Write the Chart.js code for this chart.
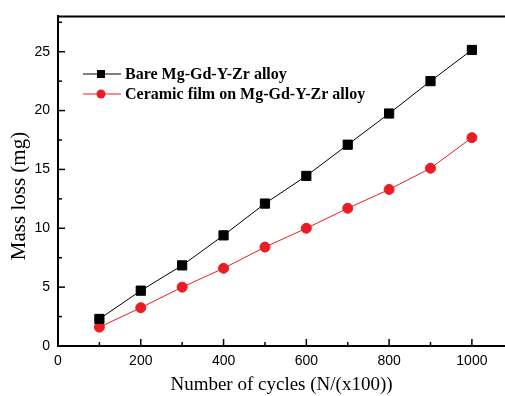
<!DOCTYPE html>
<html>
<head>
<meta charset="utf-8">
<script src="https://cdn.jsdelivr.net/npm/chart.js@4/dist/chart.umd.min.js"></script>
<style>
  html, body { margin: 0; padding: 0; background: #fff; overflow: hidden; }
  #wrap { width: 505px; height: 396px; }
  canvas { display: block; }
</style>
</head>
<body>
<div id="wrap"><canvas id="c" width="505" height="396"></canvas></div>
<script>
const cycles = [100, 200, 300, 400, 500, 600, 700, 800, 900, 1000]
const bareLoss = [2.3, 4.7, 6.85, 9.4, 12.1, 14.45, 17.1, 19.75, 22.5, 25.15]
const ceramicLoss = [1.6, 3.25, 5.0, 6.6, 8.4, 10.0, 11.7, 13.3, 15.1, 17.7]
const seriesNames = ["Bare Mg-Gd-Y-Zr alloy", "Ceramic film on Mg-Gd-Y-Zr alloy"]
const yTitle = "Mass loss (mg)"
const xTitle = "Number of cycles (N/(x100))"

const RED = "#ec1c24"
const SERIF = "'Liberation Serif', 'Times New Roman', serif"
const SANS = "'Liberation Sans', Arial, sans-serif"

// frame line on top + inward major/minor ticks, like the Origin plot
const frameTicks = {
  id: "frameTicks",
  afterDraw(chart) {
    const { ctx, chartArea: a, scales } = chart
    ctx.save()
    ctx.strokeStyle = "#000"
    ctx.lineWidth = 2
    ctx.beginPath()
    ctx.moveTo(a.left - 1, a.top)
    ctx.lineTo(a.right, a.top)
    ctx.stroke()
    ctx.lineWidth = 1.5
    for (let v = 0; v <= 1050; v += 100) {
      const x = scales.x.getPixelForValue(v)
      const len = v % 200 === 0 ? 7 : 4
      ctx.beginPath()
      ctx.moveTo(x, a.bottom)
      ctx.lineTo(x, a.bottom - len)
      ctx.stroke()
    }
    for (let v = 0; v <= 27.5; v += 2.5) {
      const y = scales.y.getPixelForValue(v)
      const len = v % 5 === 0 ? 7 : 4
      ctx.beginPath()
      ctx.moveTo(a.left, y)
      ctx.lineTo(a.left + len, y)
      ctx.stroke()
    }
    // y title sits a bit below the middle in the original
    ctx.fillStyle = "#000"
    ctx.font = "21px " + SERIF
    ctx.textAlign = "center"
    ctx.textBaseline = "middle"
    ctx.translate(19, 196)
    ctx.rotate(-Math.PI / 2)
    ctx.fillText(yTitle, 0, 0)
    ctx.restore()
  },
}

// legend drawn inside the plot
const innerLegend = {
  id: "innerLegend",
  afterDraw(chart) {
    const { ctx } = chart
    ctx.save()
    ctx.font = "bold 16px " + SERIF
    ctx.textBaseline = "middle"
    chart.data.datasets.forEach((ds, i) => {
      const y = 74 + i * 20
      ctx.strokeStyle = ds.borderColor
      ctx.lineWidth = 1
      ctx.beginPath()
      ctx.moveTo(83, y)
      ctx.lineTo(121, y)
      ctx.stroke()
      ctx.fillStyle = ds.pointBackgroundColor
      if (i === 0) {
        ctx.fillRect(97, y - 4, 8, 8)
      } else {
        ctx.beginPath()
        ctx.arc(101, y, 4.5, 0, Math.PI * 2)
        ctx.fill()
      }
      ctx.fillStyle = "#000"
      ctx.fillText(ds.label, 125, y + 1)
    })
    ctx.restore()
  },
}

new Chart(document.getElementById("c"), {
  type: "line",
  data: {
    datasets: [
      {
        label: seriesNames[0],
        data: cycles.map((c, i) => ({ x: c, y: bareLoss[i] })),
        borderColor: "#000",
        backgroundColor: "#000",
        pointBackgroundColor: "#000",
        pointBorderColor: "#000",
        pointStyle: "rect",
        pointRadius: 6.5,
        borderWidth: 1,
      },
      {
        label: seriesNames[1],
        data: cycles.map((c, i) => ({ x: c, y: ceramicLoss[i] })),
        borderColor: RED,
        backgroundColor: RED,
        pointBackgroundColor: RED,
        pointBorderColor: RED,
        pointStyle: "circle",
        pointRadius: 5,
        borderWidth: 1,
      },
    ],
  },
  options: {
    animation: false,
    responsive: false,
    layout: { autoPadding: false, padding: { top: 10, right: 0, left: 0, bottom: 0 } },
    plugins: { legend: { display: false }, tooltip: { enabled: false } },
    scales: {
      x: {
        type: "linear",
        min: 0,
        max: 1080,
        afterFit: (s) => {
          s.height = 50
          s.paddingLeft = 0
          s.paddingRight = 0
        },
        grid: { display: false, drawTicks: false },
        border: { display: true, color: "#000", width: 2 },
        ticks: {
          stepSize: 100,
          includeBounds: false,
          autoSkip: false,
          maxRotation: 0,
          padding: 7,
          color: "#000",
          font: { family: SANS, size: 14 },
          callback: (v) => (v % 200 === 0 ? String(v) : ""),
        },
        title: {
          display: true,
          text: xTitle,
          color: "#000",
          font: { family: SERIF, size: 19 },
          padding: { top: 2, bottom: 0 },
        },
      },
      y: {
        min: 0,
        max: 28,
        afterFit: (s) => { s.width = 58 },
        grid: { display: false, drawTicks: false },
        border: { display: true, color: "#000", width: 2 },
        ticks: {
          stepSize: 2.5,
          includeBounds: false,
          autoSkip: false,
          padding: 8,
          color: "#000",
          font: { family: SANS, size: 14 },
          callback: (v) => (v % 5 === 0 ? String(v) : ""),
        },
      },
    },
  },
  plugins: [frameTicks, innerLegend],
})
</script>
</body>
</html>
